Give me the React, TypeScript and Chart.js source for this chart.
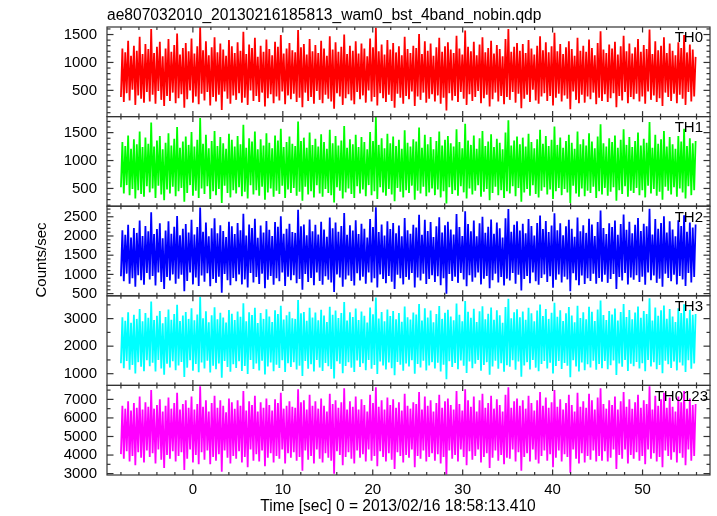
import React, { useEffect, useRef } from "react";
import { Chart, registerables } from "chart.js";

Chart.register(...registerables);

const TITLE = "ae807032010_20130216185813_wam0_bst_4band_nobin.qdp";
const X_TITLE = "Time [sec] 0 = 2013/02/16 18:58:13.410";
const Y_TITLE = "Counts/sec";
const SERIES_NAMES = ["TH0", "TH1", "TH2", "TH3", "TH0123"];
const SERIES_COLORS = ["#ff0000", "#00ff00", "#0000ff", "#00ffff", "#ff00ff"];
const LABEL_RIGHT = [703, 703, 703, 703, 708];

const TIME_START = -8.0;
const TIME_END = 55.9;
const X_MIN = -9.55;
const X_MAX = 57.5;
const X_TICKS = [0, 10, 20, 30, 40, 50];
const X_MAJOR = 10;
const X_MINOR = 2;

const Y_MIN = [30, 182, 443, 575, 2925];
const Y_MAX = [1635, 1787, 2775, 3829, 7753];
const Y_TICKS = [
  [500, 1000, 1500],
  [500, 1000, 1500],
  [500, 1000, 1500, 2000, 2500],
  [1000, 2000, 3000],
  [3000, 4000, 5000, 6000, 7000],
];
const Y_MAJOR = [500, 500, 500, 1000, 1000];
const Y_MINOR = [100, 100, 100, 500, 500];

const TH0 = [
  380, 1250, 290, 1180, 450, 1390, 320, 1120, 510, 1300, 240, 1210, 410, 1460, 350, 1150, 280, 1330, 470, 1240,
  300, 1600, 420, 1170, 260, 1280, 490, 1370, 330, 1110, 220, 1250, 400, 1420, 310, 1190, 460, 1310, 270, 1520,
  360, 1140, 430, 1260, 190, 1350, 340, 1200, 500, 1430, 280, 1160, 390, 1290, 250, 1630, 440, 1220, 320, 1380,
  470, 1130, 230, 1270, 380, 1450, 300, 1180, 420, 1340, 150, 1230, 480, 1120, 350, 1400, 260, 1290, 410, 1170,
  330, 1360, 450, 1210, 280, 1550, 370, 1150, 240, 1320, 500, 1260, 310, 1440, 400, 1100, 290, 1300, 460, 1190,
  210, 1410, 360, 1240, 430, 1130, 270, 1370, 390, 1280, 320, 1490, 480, 1160, 250, 1250, 410, 1350, 340, 1220,
  440, 1180, 290, 1580, 370, 1270, 200, 1330, 460, 1140, 310, 1420, 380, 1200, 260, 1310, 490, 1170, 330, 1390,
  270, 1250, 420, 1120, 350, 1470, 300, 1230, 170, 1360, 450, 1190, 390, 1280, 240, 1500, 360, 1150, 430, 1300,
  320, 1210, 250, 1380, 470, 1160, 340, 1340, 410, 1250, 280, 1110, 500, 1430, 300, 1270, 380, 1620, 230, 1200,
  450, 1320, 360, 1140, 290, 1400, 420, 1230, 310, 1350, 190, 1180, 440, 1290, 370, 1130, 260, 1460, 400, 1240,
  340, 1170, 480, 1300, 220, 1260, 390, 1510, 330, 1150, 460, 1380, 280, 1210, 350, 1340, 430, 1120, 300, 1270,
  410, 1440, 260, 1190, 370, 1290, 140, 1360, 450, 1230, 320, 1170, 400, 1480, 290, 1250, 470, 1140, 350, 1570,
  240, 1280, 430, 1200, 310, 1370, 380, 1130, 490, 1320, 270, 1450, 360, 1180, 420, 1260, 210, 1390, 340, 1160,
  460, 1310, 300, 1240, 400, 1110, 250, 1420, 380, 1600, 330, 1190, 470, 1280, 280, 1350, 440, 1210, 180, 1330,
  350, 1170, 420, 1400, 290, 1250, 510, 1140, 320, 1300, 260, 1470, 390, 1220, 450, 1360, 310, 1180, 400, 1290,
  230, 1530, 370, 1200, 440, 1330, 300, 1150, 410, 1270, 350, 1380, 160, 1240, 480, 1120, 330, 1440, 270, 1210,
  420, 1300, 280, 1190, 390, 1410, 340, 1260, 460, 1130, 250, 1350, 370, 1560, 310, 1230, 430, 1170, 290, 1320,
  360, 1250, 450, 1370, 200, 1140, 400, 1290, 320, 1480, 470, 1200, 270, 1340, 380, 1160, 340, 1270, 440, 1420,
  300, 1190, 390, 1310, 260, 1240, 480, 1590, 330, 1150, 410, 1380, 290, 1220, 360, 1300, 220, 1450, 460, 1170,
  380, 1340, 310, 1210, 440, 1130, 270, 1360, 420, 1260, 350, 1490, 240, 1180, 470, 1320, 300, 1230, 390, 1100,
];

const TH1 = [
  520, 1330, 410, 1260, 560, 1450, 380, 1210, 490, 1380, 320, 1290, 470, 1520, 400, 1240, 350, 1410, 540, 1300,
  430, 1680, 500, 1250, 330, 1360, 550, 1440, 390, 1200, 290, 1320, 480, 1490, 410, 1270, 530, 1390, 360, 1600,
  450, 1230, 510, 1340, 260, 1430, 420, 1280, 560, 1510, 370, 1250, 460, 1370, 330, 1760, 500, 1300, 400, 1460,
  540, 1220, 310, 1350, 450, 1530, 380, 1260, 490, 1420, 240, 1310, 550, 1210, 420, 1480, 340, 1370, 470, 1250,
  410, 1440, 520, 1290, 360, 1640, 440, 1230, 320, 1400, 560, 1340, 390, 1520, 470, 1200, 370, 1380, 530, 1270,
  300, 1490, 430, 1320, 500, 1220, 350, 1450, 460, 1360, 400, 1570, 550, 1240, 330, 1330, 480, 1430, 420, 1300,
  510, 1260, 370, 1700, 440, 1350, 280, 1410, 530, 1230, 390, 1500, 450, 1280, 340, 1390, 560, 1250, 410, 1470,
  350, 1330, 490, 1210, 420, 1550, 380, 1310, 250, 1440, 520, 1270, 460, 1360, 320, 1620, 430, 1230, 500, 1380,
  400, 1290, 330, 1460, 540, 1240, 410, 1420, 480, 1330, 360, 1200, 560, 1510, 380, 1350, 450, 1780, 310, 1280,
  520, 1400, 430, 1220, 370, 1480, 490, 1310, 390, 1430, 270, 1260, 510, 1370, 440, 1210, 340, 1540, 470, 1320,
  420, 1250, 550, 1380, 300, 1340, 460, 1590, 410, 1230, 530, 1460, 360, 1290, 430, 1420, 500, 1200, 380, 1350,
  480, 1520, 340, 1270, 450, 1370, 230, 1440, 520, 1310, 400, 1250, 470, 1560, 370, 1330, 540, 1220, 430, 1660,
  320, 1360, 500, 1280, 390, 1450, 460, 1210, 560, 1400, 350, 1530, 440, 1260, 490, 1340, 290, 1470, 420, 1240,
  530, 1390, 380, 1320, 470, 1200, 330, 1500, 450, 1720, 410, 1270, 540, 1360, 360, 1430, 510, 1290, 260, 1410,
  430, 1250, 490, 1480, 370, 1330, 560, 1220, 400, 1380, 340, 1550, 460, 1300, 520, 1440, 390, 1260, 480, 1370,
  310, 1610, 450, 1280, 510, 1410, 380, 1230, 490, 1350, 430, 1460, 240, 1320, 550, 1210, 410, 1520, 350, 1290,
  500, 1380, 360, 1270, 460, 1490, 420, 1340, 530, 1220, 330, 1430, 450, 1650, 390, 1310, 510, 1250, 370, 1400,
  440, 1330, 520, 1450, 280, 1230, 470, 1370, 400, 1560, 540, 1280, 350, 1420, 460, 1240, 420, 1350, 510, 1500,
  380, 1270, 470, 1390, 340, 1320, 550, 1690, 410, 1230, 490, 1460, 370, 1300, 440, 1380, 300, 1530, 530, 1250,
  460, 1420, 390, 1290, 520, 1210, 350, 1440, 500, 1340, 430, 1570, 320, 1260, 540, 1400, 380, 1310, 470, 1350,
];

const TH2 = [
  950, 2150, 820, 2030, 1020, 2290, 760, 1960, 900, 2210, 680, 2080, 980, 2400, 850, 2000, 730, 2260, 1040, 2120,
  870, 2620, 960, 2050, 710, 2180, 1050, 2330, 800, 1940, 620, 2140, 930, 2380, 840, 2060, 1000, 2240, 760, 2520,
  890, 2020, 990, 2190, 560, 2310, 830, 2090, 1050, 2420, 740, 2040, 920, 2230, 700, 2740, 970, 2110, 810, 2350,
  1030, 1990, 690, 2200, 880, 2460, 780, 2070, 940, 2280, 520, 2130, 1010, 1970, 850, 2370, 720, 2250, 910, 2050,
  820, 2340, 1000, 2150, 740, 2580, 870, 2010, 660, 2300, 1040, 2210, 790, 2450, 930, 1950, 750, 2270, 1020, 2090,
  640, 2390, 860, 2160, 960, 2000, 730, 2360, 900, 2240, 820, 2510, 1050, 2060, 700, 2190, 940, 2320, 850, 2100,
  980, 2080, 770, 2680, 880, 2250, 600, 2300, 1010, 2020, 800, 2430, 910, 2120, 720, 2290, 1050, 2040, 830, 2370,
  730, 2170, 950, 1980, 860, 2480, 790, 2200, 540, 2350, 1000, 2110, 920, 2260, 680, 2600, 870, 2030, 970, 2280,
  830, 2140, 710, 2410, 1030, 2050, 840, 2320, 940, 2190, 760, 1960, 1050, 2440, 790, 2230, 900, 2750, 660, 2100,
  1000, 2300, 880, 2010, 770, 2380, 960, 2180, 810, 2340, 620, 2070, 990, 2270, 900, 1990, 740, 2470, 930, 2150,
  860, 2060, 1040, 2290, 660, 2220, 920, 2550, 840, 2030, 1020, 2420, 750, 2130, 880, 2360, 980, 1970, 800, 2250,
  950, 2490, 720, 2090, 900, 2280, 500, 2370, 1010, 2170, 830, 2040, 940, 2570, 780, 2230, 1040, 2000, 870, 2640,
  690, 2310, 980, 2120, 810, 2400, 920, 1990, 1050, 2330, 740, 2500, 890, 2080, 960, 2240, 640, 2430, 850, 2060,
  1020, 2350, 790, 2200, 930, 1960, 710, 2460, 890, 2700, 840, 2110, 1040, 2290, 760, 2380, 990, 2140, 580, 2320,
  880, 2070, 960, 2440, 770, 2260, 1050, 2010, 820, 2340, 730, 2530, 910, 2180, 1000, 2390, 800, 2100, 950, 2270,
  650, 2590, 860, 2150, 1000, 2330, 790, 2020, 940, 2250, 870, 2420, 560, 2190, 1030, 1980, 850, 2480, 720, 2120,
  970, 2280, 750, 2080, 900, 2450, 830, 2300, 1020, 2000, 760, 2360, 910, 2660, 810, 2210, 990, 2050, 780, 2330,
  880, 2230, 1010, 2400, 620, 2030, 930, 2310, 840, 2560, 1040, 2160, 740, 2370, 920, 2070, 860, 2290, 980, 2470,
  800, 2130, 940, 2320, 730, 2250, 1050, 2710, 850, 2040, 970, 2440, 780, 2190, 890, 2340, 680, 2510, 1020, 2090,
  910, 2380, 820, 2170, 990, 1990, 740, 2410, 960, 2260, 870, 2540, 700, 2110, 1040, 2350, 790, 2220, 930, 2300,
];

const TH3 = [
  1380, 3050, 1200, 2920, 1460, 3230, 1140, 2850, 1320, 3140, 1010, 2990, 1420, 3350, 1250, 2900, 1090, 3200, 1490, 3030,
  1270, 3620, 1400, 2950, 1080, 3100, 1500, 3280, 1190, 2830, 960, 3060, 1360, 3330, 1230, 2960, 1450, 3170, 1130, 3500,
  1300, 2910, 1430, 3110, 880, 3240, 1220, 2990, 1490, 3380, 1110, 2940, 1350, 3150, 1050, 3790, 1410, 3010, 1190, 3270,
  1470, 2870, 1040, 3120, 1290, 3410, 1160, 2980, 1370, 3210, 850, 3040, 1460, 2860, 1240, 3310, 1070, 3180, 1340, 2950,
  1210, 3260, 1450, 3070, 1100, 3560, 1280, 2900, 990, 3230, 1500, 3130, 1170, 3390, 1370, 2840, 1120, 3200, 1470, 2990,
  970, 3340, 1260, 3080, 1410, 2880, 1090, 3300, 1330, 3170, 1210, 3470, 1490, 2970, 1060, 3120, 1380, 3250, 1240, 3010,
  1420, 2990, 1150, 3680, 1290, 3190, 920, 3240, 1460, 2920, 1180, 3390, 1340, 3040, 1080, 3220, 1500, 2940, 1230, 3320,
  1100, 3110, 1390, 2880, 1270, 3430, 1170, 3140, 830, 3290, 1450, 3020, 1360, 3200, 1020, 3600, 1280, 2930, 1420, 3230,
  1220, 3060, 1060, 3370, 1480, 2950, 1240, 3260, 1380, 3100, 1130, 2860, 1500, 3400, 1180, 3160, 1320, 3770, 990, 3000,
  1440, 3240, 1300, 2900, 1150, 3330, 1410, 3090, 1200, 3280, 940, 2980, 1430, 3200, 1330, 2890, 1110, 3440, 1370, 3050,
  1260, 2970, 1490, 3220, 1000, 3150, 1350, 3530, 1230, 2930, 1470, 3380, 1120, 3040, 1300, 3290, 1420, 2870, 1190, 3170,
  1400, 3460, 1080, 2990, 1330, 3210, 800, 3320, 1450, 3080, 1240, 2940, 1390, 3550, 1160, 3140, 1480, 2900, 1290, 3640,
  1030, 3250, 1440, 3030, 1200, 3360, 1360, 2880, 1500, 3270, 1110, 3450, 1320, 2980, 1420, 3180, 960, 3400, 1260, 2960,
  1470, 3300, 1180, 3120, 1380, 2850, 1070, 3420, 1310, 3720, 1250, 3010, 1490, 3230, 1140, 3340, 1440, 3050, 890, 3260,
  1300, 2960, 1420, 3390, 1150, 3190, 1500, 2900, 1220, 3290, 1090, 3510, 1350, 3090, 1460, 3350, 1190, 2990, 1400, 3210,
  1010, 3580, 1280, 3070, 1460, 3300, 1170, 2910, 1390, 3190, 1290, 3420, 870, 3110, 1490, 2870, 1260, 3470, 1080, 3020,
  1410, 3230, 1130, 2980, 1340, 3430, 1230, 3250, 1470, 2910, 1140, 3330, 1350, 3660, 1200, 3130, 1460, 2950, 1160, 3280,
  1310, 3150, 1480, 3370, 950, 2930, 1370, 3240, 1250, 3530, 1500, 3060, 1100, 3310, 1360, 2980, 1270, 3220, 1430, 3440,
  1190, 3030, 1380, 3280, 1090, 3170, 1500, 3740, 1260, 2930, 1420, 3400, 1160, 3100, 1320, 3300, 1020, 3480, 1470, 2990,
  1340, 3350, 1210, 3080, 1440, 2880, 1120, 3380, 1410, 3200, 1300, 3520, 1060, 3010, 1490, 3320, 1180, 3140, 1370, 3170,
];

const TH0123 = [
  4050, 6650, 3800, 6500, 4200, 6900, 3650, 6400, 3950, 6800, 3450, 6550, 4150, 7150, 3850, 6450, 3600, 6850, 4250, 6600,
  3900, 7500, 4100, 6500, 3550, 6700, 4300, 7000, 3750, 6350, 3300, 6650, 4000, 7100, 3800, 6500, 4200, 6800, 3650, 7350,
  3950, 6450, 4150, 6750, 3200, 6950, 3800, 6550, 4300, 7150, 3600, 6450, 4000, 6750, 3500, 7700, 4150, 6600, 3750, 6950,
  4250, 6350, 3500, 6800, 3900, 7200, 3700, 6550, 4050, 6950, 3100, 6650, 4250, 6300, 3850, 7050, 3550, 6850, 3950, 6500,
  3800, 6950, 4200, 6650, 3600, 7450, 3900, 6400, 3350, 6900, 4300, 6700, 3700, 7200, 4050, 6350, 3650, 6850, 4250, 6550,
  3400, 7050, 3850, 6700, 4100, 6400, 3600, 7000, 3950, 6800, 3800, 7350, 4300, 6500, 3550, 6650, 4100, 6900, 3850, 6600,
  4150, 6550, 3700, 7550, 3900, 6850, 3150, 6950, 4250, 6450, 3750, 7250, 3950, 6650, 3550, 6900, 4300, 6500, 3800, 7050,
  3600, 6650, 4100, 6350, 3850, 7300, 3700, 6750, 3000, 6950, 4200, 6550, 4000, 6850, 3450, 7600, 3900, 6450, 4150, 6900,
  3800, 6600, 3550, 7150, 4250, 6450, 3850, 7000, 4050, 6700, 3650, 6350, 4300, 7250, 3700, 6800, 3950, 7650, 3400, 6600,
  4200, 6950, 3900, 6450, 3650, 7100, 4100, 6700, 3750, 7000, 3250, 6550, 4150, 6850, 3950, 6400, 3600, 7300, 4000, 6650,
  3850, 6500, 4300, 6850, 3350, 6750, 3950, 7400, 3800, 6450, 4250, 7150, 3650, 6650, 3900, 6950, 4100, 6350, 3700, 6800,
  4050, 7250, 3550, 6550, 3900, 6900, 2950, 7050, 4250, 6700, 3800, 6450, 4000, 7450, 3650, 6750, 4300, 6400, 3900, 7550,
  3450, 6950, 4200, 6600, 3750, 7150, 3950, 6350, 4300, 6950, 3600, 7300, 3900, 6550, 4100, 6800, 3300, 7200, 3850, 6500,
  4250, 7000, 3700, 6700, 4000, 6350, 3500, 7250, 3850, 7650, 3800, 6550, 4300, 6900, 3650, 7050, 4150, 6650, 3150, 6950,
  3900, 6500, 4100, 7200, 3650, 6800, 4300, 6400, 3750, 6950, 3550, 7400, 3950, 6650, 4250, 7100, 3700, 6550, 4050, 6850,
  3350, 7500, 3850, 6600, 4250, 7000, 3650, 6450, 4050, 6800, 3900, 7250, 3050, 6700, 4300, 6350, 3800, 7350, 3550, 6600,
  4100, 6900, 3600, 6550, 3950, 7300, 3750, 6950, 4250, 6450, 3650, 7100, 3950, 7600, 3700, 6750, 4200, 6500, 3650, 6950,
  3850, 6700, 4300, 7150, 3250, 6450, 4000, 6900, 3800, 7400, 4300, 6600, 3550, 7000, 4000, 6500, 3800, 6850, 4150, 7250,
  3700, 6550, 3950, 6950, 3500, 6750, 4300, 7700, 3800, 6450, 4100, 7200, 3650, 6650, 3900, 7000, 3350, 7350, 4250, 6550,
  3950, 7100, 3750, 6600, 4150, 6350, 3600, 7150, 4100, 6850, 3850, 7450, 3450, 6500, 4300, 7050, 3700, 6700, 3950, 6750,
];

const SERIES_VALUES = [TH0, TH1, TH2, TH3, TH0123];

const FONT_FAMILY = "'Liberation Sans', Arial, Helvetica, sans-serif";
const FONT_SIZE = 15;
const TITLE_FONT_SIZE = 15.6;
const AXIS_COLOR = "#333333";

function toPoints(values: number[]) {
  const n = values.length;
  const step = (TIME_END - TIME_START) / (n - 1);
  return values.map((v, i) => ({ x: TIME_START + i * step, y: v }));
}

const qdpPlugin = {
  id: "qdpFrame",
  beforeDatasetDraw(chart: any, args: any) {
    const meta = chart.getDatasetMeta(args.index);
    const ys = meta.yScale;
    const ca = chart.chartArea;
    const ctx = chart.ctx;
    ctx.save();
    ctx.beginPath();
    ctx.rect(ca.left, ys.top, ca.right - ca.left, ys.bottom - ys.top);
    ctx.clip();
  },
  afterDatasetDraw(chart: any) {
    chart.ctx.restore();
  },
  afterDraw(chart: any) {
    const ctx = chart.ctx as CanvasRenderingContext2D;
    const ca = chart.chartArea;
    const xs = chart.scales.x;
    ctx.save();
    ctx.strokeStyle = AXIS_COLOR;
    ctx.lineWidth = 1.2;
    const line = (x1: number, y1: number, x2: number, y2: number) => {
      ctx.beginPath();
      ctx.moveTo(x1, y1);
      ctx.lineTo(x2, y2);
      ctx.stroke();
    };
    SERIES_NAMES.forEach((name, i) => {
      const ys = chart.scales["y" + i];
      const top = ys.top;
      const bottom = ys.bottom;
      ctx.strokeRect(ca.left, top, ca.right - ca.left, bottom - top);
      for (let k = Math.ceil(X_MIN / X_MINOR); k * X_MINOR <= X_MAX; k++) {
        const v = k * X_MINOR;
        const px = xs.getPixelForValue(v);
        const major = Math.abs(v % X_MAJOR) < 1e-6;
        const len = major ? 5.5 : 3;
        line(px, top, px, top + len);
        line(px, bottom, px, bottom - len);
      }
      const mn = Y_MIN[i];
      const mx = Y_MAX[i];
      for (let k = Math.ceil(mn / Y_MINOR[i]); k * Y_MINOR[i] <= mx; k++) {
        const v = k * Y_MINOR[i];
        const py = ys.getPixelForValue(v);
        const major = v % Y_MAJOR[i] === 0;
        const len = major ? 6.5 : 3.5;
        line(ca.left, py, ca.left + len, py);
        line(ca.right, py, ca.right - len, py);
      }
      ctx.fillStyle = "#000";
      ctx.font = `${FONT_SIZE}px ${FONT_FAMILY}`;
      ctx.textAlign = "right";
      ctx.textBaseline = "alphabetic";
      ctx.fillText(name, LABEL_RIGHT[i], top + 15.4);
    });
    ctx.fillStyle = "#000";
    ctx.font = `${TITLE_FONT_SIZE}px ${FONT_FAMILY}`;
    ctx.textAlign = "left";
    ctx.textBaseline = "alphabetic";
    ctx.fillText(TITLE, 107, 19.5);
    ctx.textAlign = "center";
    ctx.fillText(X_TITLE, 398, 511);
    ctx.font = `${FONT_SIZE}px ${FONT_FAMILY}`;
    ctx.translate(46, 260);
    ctx.rotate(-Math.PI / 2);
    ctx.fillText(Y_TITLE, 0, 0);
    ctx.restore();
  },
};

export default function App() {
  const canvasRef = useRef<HTMLCanvasElement | null>(null);

  useEffect(() => {
    const canvas = canvasRef.current;
    if (!canvas) return;
    const tickFont = { family: FONT_FAMILY, size: FONT_SIZE };
    const scales: any = {
      x: {
        type: "linear",
        position: "bottom",
        min: X_MIN,
        max: X_MAX,
        grid: { display: false, drawTicks: false },
        border: { display: false },
        afterBuildTicks: (s: any) => {
          s.ticks = X_TICKS.map((v) => ({ value: v }));
        },
        ticks: {
          autoSkip: false,
          maxRotation: 0,
          padding: 6,
          color: "#000",
          font: tickFont,
          callback: (v: any) => String(v),
        },
        afterFit: (s: any) => {
          s.height = 41;
        },
      },
    };
    for (let i = SERIES_NAMES.length - 1; i >= 0; i--) {
      const idx = i;
      scales["y" + idx] = {
        type: "linear",
        position: "left",
        stack: "panels",
        stackWeight: 1,
        weight: SERIES_NAMES.length - idx,
        min: Y_MIN[idx],
        max: Y_MAX[idx],
        grid: { display: false, drawTicks: false },
        border: { display: false },
        afterBuildTicks: (s: any) => {
          s.ticks = Y_TICKS[idx].map((v) => ({ value: v }));
        },
        ticks: {
          autoSkip: false,
          padding: 10,
          color: "#000",
          font: tickFont,
          callback: (v: any) => String(v),
        },
        afterFit: (s: any) => {
          s.width = 107;
        },
      };
    }
    const chart = new Chart(canvas, {
      type: "line",
      data: {
        datasets: SERIES_VALUES.map((vals, i) => ({
          label: SERIES_NAMES[i],
          data: toPoints(vals),
          yAxisID: "y" + i,
          borderColor: SERIES_COLORS[i],
          backgroundColor: SERIES_COLORS[i],
          borderWidth: 1.8,
          pointRadius: 0,
          tension: 0,
          fill: false,
        })),
      },
      options: {
        responsive: false,
        animation: false,
        layout: { padding: { left: 0, right: 7, top: 27, bottom: 0 } },
        plugins: {
          legend: { display: false },
          title: { display: false },
          tooltip: { enabled: false },
        },
        scales,
      },
      plugins: [qdpPlugin],
    });
    return () => {
      chart.destroy();
    };
  }, []);

  return (
    <div style={{ position: "fixed", left: 0, top: 0, width: 717, height: 516, background: "#fff" }}>
      <canvas ref={canvasRef} width={717} height={516} style={{ display: "block" }} />
    </div>
  );
}
